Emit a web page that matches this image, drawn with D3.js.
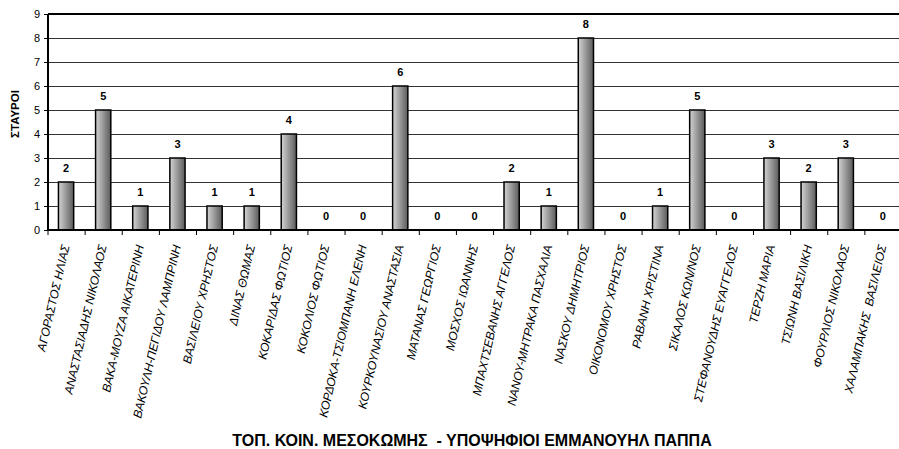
<!DOCTYPE html>
<html>
<head>
<meta charset="utf-8">
<script src="https://cdn.jsdelivr.net/npm/d3@7"></script>
<style>
  html, body { margin: 0; padding: 0; background: #fff; }
  svg { display: block; font-family: "Liberation Sans", Arial, sans-serif; }
</style>
</head>
<body>
<svg id="chart" width="899" height="449"></svg>
<script>
const categories = [
  "ΑΓΟΡΑΣΤΟΣ ΗΛΙΑΣ",
  "ΑΝΑΣΤΑΣΙΑΔΗΣ ΝΙΚΟΛΑΟΣ",
  "ΒΑΚΑ-ΜΟΥΖΑ ΑΙΚΑΤΕΡΙΝΗ",
  "ΒΑΚΟΥΛΗ-ΠΕΓΙΔΟΥ ΛΑΜΠΡΙΝΗ",
  "ΒΑΣΙΛΕΙΟΥ ΧΡΗΣΤΟΣ",
  "ΔΙΝΑΣ ΘΩΜΑΣ",
  "ΚΟΚΑΡΙΔΑΣ ΦΩΤΙΟΣ",
  "ΚΟΚΟΛΙΟΣ ΦΩΤΙΟΣ",
  "ΚΟΡΔΟΚΑ-ΤΣΙΟΜΠΑΝΗ ΕΛΕΝΗ",
  "ΚΟΥΡΚΟΥΝΑΣΙΟΥ ΑΝΑΣΤΑΣΙΑ",
  "ΜΑΤΑΝΑΣ ΓΕΩΡΓΙΟΣ",
  "ΜΟΣΧΟΣ ΙΩΑΝΝΗΣ",
  "ΜΠΑΧΤΣΕΒΑΝΗΣ ΑΓΓΕΛΟΣ",
  "ΝΑΝΟΥ-ΜΗΤΡΑΚΑ ΠΑΣΧΑΛΙΑ",
  "ΝΑΣΚΟΥ ΔΗΜΗΤΡΙΟΣ",
  "ΟΙΚΟΝΟΜΟΥ ΧΡΗΣΤΟΣ",
  "ΡΑΒΑΝΗ ΧΡΙΣΤΙΝΑ",
  "ΣΙΚΑΛΟΣ ΚΩΝ/ΝΟΣ",
  "ΣΤΕΦΑΝΟΥΔΗΣ ΕΥΑΓΓΕΛΟΣ",
  "ΤΕΡΖΗ ΜΑΡΙΑ",
  "ΤΣΙΩΝΗ ΒΑΣΙΛΙΚΗ",
  "ΦΟΥΡΛΙΟΣ ΝΙΚΟΛΑΟΣ",
  "ΧΑΛΑΜΠΑΚΗΣ  ΒΑΣΙΛΕΙΟΣ"
];
const votes = [2, 5, 1, 3, 1, 1, 4, 0, 0, 6, 0, 0, 2, 1, 8, 0, 1, 5, 0, 3, 2, 3, 0];
const yTicks = [0, 1, 2, 3, 4, 5, 6, 7, 8, 9];
const yTitle = "ΣΤΑΥΡΟΙ";
const chartTitle = "ΤΟΠ. ΚΟΙΝ. ΜΕΣΟΚΩΜΗΣ  - ΥΠΟΨΗΦΙΟΙ ΕΜΜΑΝΟΥΗΛ ΠΑΠΠΑ";

const svg = d3.select("#chart");
const mLeft = 48, mRight = 902, mTop = 14, mBottom = 230;

const x = d3.scaleBand().domain(categories).range([mLeft, mRight]).paddingInner(0).paddingOuter(0);
const y = d3.scaleLinear().domain([0, 9]).range([mBottom, mTop]);

const defs = svg.append("defs");
const grad = defs.append("linearGradient").attr("id", "barGrad")
  .attr("x1", "0%").attr("x2", "100%").attr("y1", "0%").attr("y2", "0%");
grad.append("stop").attr("offset", "0%").attr("stop-color", "#d4d4d4");
grad.append("stop").attr("offset", "100%").attr("stop-color", "#5a5a5a");

// gridlines
svg.append("g").selectAll("line").data(yTicks.filter(d => d > 0 && d < 9)).join("line")
  .attr("x1", mLeft).attr("x2", 899)
  .attr("y1", d => Math.round(y(d)) + 0.5).attr("y2", d => Math.round(y(d)) + 0.5)
  .attr("stroke", "#333").attr("stroke-width", 1);
// top border
svg.append("line").attr("x1", mLeft).attr("x2", 899)
  .attr("y1", y(9)).attr("y2", y(9)).attr("stroke", "#000").attr("stroke-width", 2);

// bars
const bw = x.bandwidth() * 0.41;
svg.append("g").selectAll("rect").data(votes.map((v, i) => ({c: categories[i], v})).filter(d => d.v > 0))
  .join("rect")
  .attr("x", d => x(d.c) + (x.bandwidth() - bw) / 2 - 0.5)
  .attr("y", d => y(d.v))
  .attr("width", bw)
  .attr("height", d => y(0) - y(d.v))
  .attr("fill", "url(#barGrad)")
  .attr("stroke", "#000").attr("stroke-width", 1.5);

// value labels
svg.append("g").selectAll("text").data(votes.map((v, i) => ({c: categories[i], v})))
  .join("text")
  .attr("x", d => x(d.c) + x.bandwidth() / 2 - 0.5)
  .attr("y", d => y(d.v) - 10)
  .attr("text-anchor", "middle")
  .attr("font-size", "11px").attr("font-weight", "bold")
  .text(d => d.v);

// y axis
const yAxis = d3.axisLeft(y).tickValues(yTicks).tickSize(4).tickPadding(4).tickFormat(d3.format("d"));
const gy = svg.append("g").attr("transform", `translate(${mLeft},0)`).call(yAxis);
gy.select(".domain").attr("stroke", "#000").attr("stroke-width", 2).attr("d", `M0,${mTop}V${mBottom}`);
gy.selectAll(".tick line").attr("stroke", "#000");
gy.selectAll(".tick text").attr("font-size", "11px").attr("font-family", "'Liberation Sans', Arial, sans-serif").attr("fill", "#000");

// x axis
const xAxis = d3.axisBottom(x).tickSize(0).tickFormat("");
const gx = svg.append("g").attr("transform", `translate(0,${mBottom})`).call(xAxis);
gx.select(".domain").attr("stroke", "#000").attr("stroke-width", 2).attr("d", `M${mLeft},0H899`);
gx.selectAll(".tick").remove();
// category boundary ticks
svg.append("g").selectAll("line").data(categories).join("line")
  .attr("x1", d => x(d)).attr("x2", d => x(d))
  .attr("y1", mBottom).attr("y2", mBottom + 5)
  .attr("stroke", "#000").attr("stroke-width", 1);

// x labels
svg.append("g").selectAll("text").data(categories).join("text")
  .attr("transform", d => `translate(${x(d) + x.bandwidth() / 2 + 3},${mBottom + 16}) rotate(-77)`)
  .attr("text-anchor", "end")
  .attr("font-size", "12px").attr("font-style", "italic")
  .style("white-space", "pre")
  .text(d => d);

// y title
svg.append("text")
  .attr("transform", `translate(19,114) rotate(-90)`)
  .attr("text-anchor", "middle")
  .attr("font-size", "11.5px").attr("font-weight", "bold")
  .text(yTitle);

// chart title
svg.append("text")
  .attr("x", 472).attr("y", 446)
  .attr("text-anchor", "middle")
  .attr("font-size", "16px").attr("font-weight", "bold")
  .style("white-space", "pre")
  .text(chartTitle);
</script>
</body>
</html>
